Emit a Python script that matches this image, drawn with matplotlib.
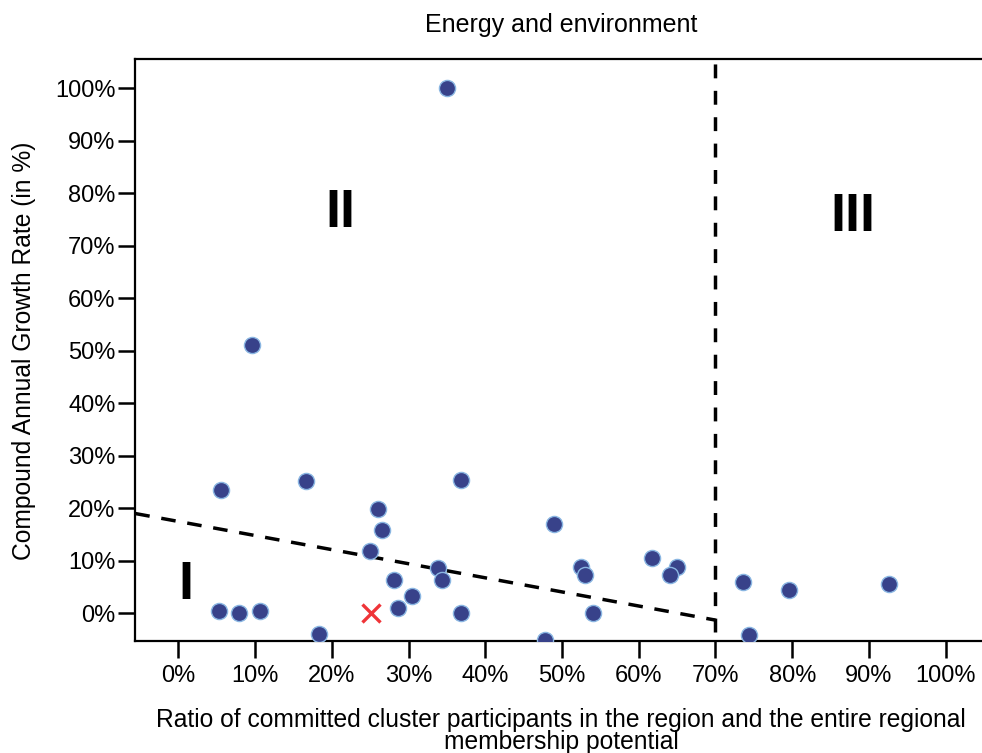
import matplotlib
matplotlib.use("Agg")
import matplotlib.pyplot as plt

plt.rcParams['font.family'] = ['Liberation Sans', 'DejaVu Sans']

# Data (ratio in %, CAGR in %)
ratio = [35.0, 9.6, 5.6, 16.6, 36.9, 49.0, 26.0, 26.5, 25.0, 33.8, 34.4,
         28.1, 30.4, 28.6, 36.8, 5.3, 7.9, 10.6, 18.3, 47.8,
         52.5, 53.0, 54.0, 61.7, 65.0, 64.1, 73.6, 74.4, 79.6, 92.6]
cagr = [100.0, 51.1, 23.5, 25.2, 25.4, 17.1, 19.9, 15.9, 11.9, 8.7, 6.4,
        6.3, 3.3, 1.1, 0.0, 0.4, 0.0, 0.4, -4.0, -5.0,
        8.9, 7.2, 0.0, 10.6, 8.9, 7.2, 5.9, -4.1, 4.4, 5.6]
highlight_x = [25.1]
highlight_y = [0.0]
trend_x = [-5.6, 70.0]
trend_y = [19.0, -1.3]
threshold_x = [70.0, 70.0]
threshold_y = [-3.6, 106.0]
xticks = list(range(0, 101, 10))
yticks = list(range(0, 101, 10))
region_labels = ["I", "II", "III"]
region_pos = [(1.0, 2.7), (21.1, 73.6), (87.9, 72.9)]

W, H = 982, 753
fig = plt.figure(figsize=(W / 100, H / 100), dpi=100)
ax = fig.add_axes([135 / W, 1 - 641 / H, (982 - 135) / W, (641 - 59.3) / H])

ax.set_xlim(-5.64, 104.73)
ax.set_ylim(-5.28, 105.52)

ax.scatter(ratio, cagr, s=135, c='#38428a', edgecolors='#8ab6e2',
           linewidths=1.0, zorder=3)
ax.plot(highlight_x, highlight_y, linestyle='none', marker='x', markersize=12.5,
        markeredgewidth=2.4, color='#ef3438', zorder=4)

ax.plot(trend_x, trend_y, color='black', lw=2.5, dashes=(4.2, 3.4), zorder=2)
ax.plot(threshold_x, threshold_y, color='black', lw=2.5, dashes=(4.0, 3.6),
        zorder=2, clip_on=True)

for lab, (px, py) in zip(region_labels, region_pos):
    ax.text(px, py, lab, fontsize=39, fontweight='bold', ha='center',
            va='baseline', color='black')

ax.set_xticks(xticks)
ax.set_xticklabels([f"{v}%" for v in xticks])
ax.set_yticks(yticks)
ax.set_yticklabels([f"{v}%" for v in yticks])
ax.tick_params(axis='both', direction='out', length=12, width=1.8,
               labelsize=17, color='black', pad=2)
ax.tick_params(axis='x', pad=5)

for side in ['left', 'bottom', 'top']:
    ax.spines[side].set_linewidth(1.6)
    ax.spines[side].set_color('black')
ax.spines['right'].set_visible(False)

fig.text(561 / W, 1 - 25 / H, "Energy and environment", ha='center',
         va='center', fontsize=18)
fig.text(24 / W, 1 - 351 / H, "Compound Annual Growth Rate (in %)",
         rotation=90, ha='center', va='center', fontsize=17.7)
fig.text(561 / W, 1 - 727 / H,
         "Ratio of committed cluster participants in the region and the entire regional",
         ha='center', va='baseline', fontsize=17.7)
fig.text(561 / W, 1 - 749 / H, "membership potential", ha='center',
         va='baseline', fontsize=17.7)

fig.savefig("out.png", dpi=100)
